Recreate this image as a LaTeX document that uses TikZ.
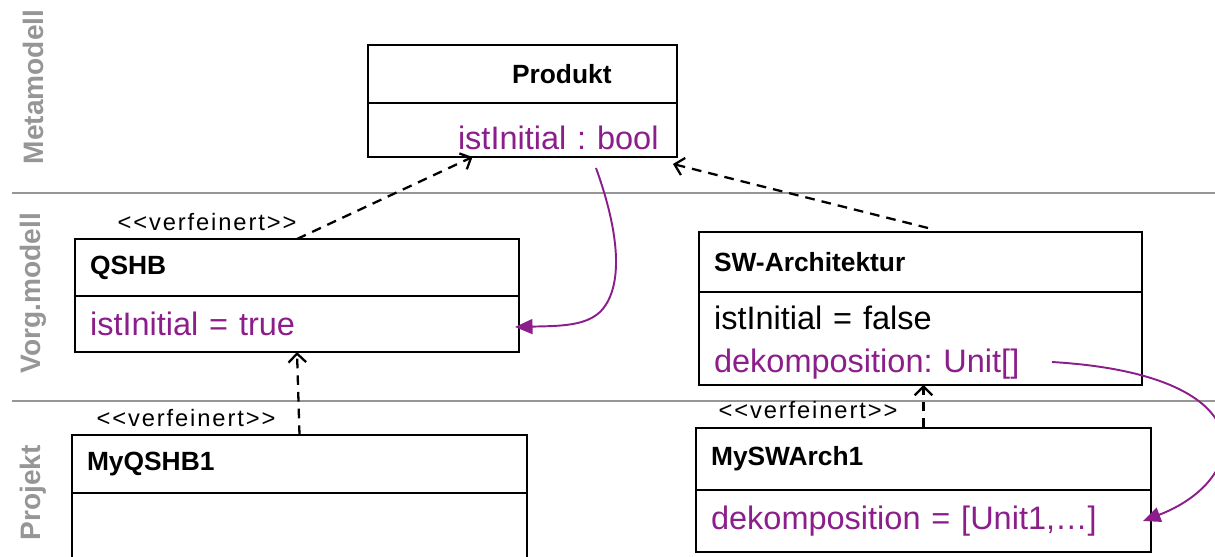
\documentclass[tikz,border=0pt]{standalone}
\usepackage{fontspec}
\setmainfont{Liberation Sans}
\usetikzlibrary{arrows.meta,positioning}
\definecolor{slotpurple}{RGB}{140,30,140}
\definecolor{lanegray}{RGB}{150,150,150}
\newcommand{\verf}{<{}<verfeinert>{}>}
\frenchspacing

\begin{document}
\begin{tikzpicture}[x=0.02cm, y=-0.02cm,
	classtitle/.style={draw, line width=0.9pt, outer sep=0pt, inner xsep=0.3cm, inner ysep=0pt, align=left, font=\fontsize{15}{18}\selectfont\bfseries},
	classattr/.style={draw, line width=0.9pt, outer sep=0pt, inner xsep=0.3cm, inner ysep=0pt, align=left, font=\fontsize{18.5}{24.5}\selectfont},
	refines/.style={line width=1.3pt, dash pattern=on 5.5pt off 4pt, -{Straight Barb[length=5pt,width=10pt]}},
	slot/.style={draw=slotpurple, line width=1.1pt, -{Triangle[length=10pt,width=8.5pt]}},
	stereotype/.style={font=\fontsize{13.5}{16}\selectfont\addfontfeature{LetterSpace=8}},
	lane/.style={draw=lanegray, line width=1pt},
	lanelabel/.style={rotate=90, text=lanegray, font=\fontsize{16}{18}\selectfont\bfseries}]
	\useasboundingbox (0,0) rectangle (1215,557);
	\clip (0,0) rectangle (1215,557);
	\draw[lane] (12,193) -- (1215,193);
	\draw[lane] (12,401) -- (1215,401);
	\node[lanelabel] (metalbl) at (33,87) {Metamodell};
	\node[lanelabel] (vorglbl) at (33,293) {Vorg.modell};
	\node[lanelabel] (projlbl) at (33,493) {Projekt};
	\node[classtitle, text width=5.58cm, minimum height=1.16cm] (produkt) at (522.5,74) {\hspace*{2.58cm}Produkt};
	\node[classattr, text width=5.58cm, minimum height=1.08cm, text height=0.8cm, below=0pt of produkt] (produktattr) {\hspace*{1.5cm}\color{slotpurple}istInitial : bool};
	\node[classtitle, text width=8.28cm, minimum height=1.14cm] (qshb) at (297,267.5) {QSHB};
	\node[classattr, text width=8.28cm, minimum height=1.12cm, below=0pt of qshb] (qshbattr) {\color{slotpurple}istInitial = true};
	\node[classtitle, text width=8.26cm, minimum height=1.2cm] (swarch) at (920.5,262) {SW-Architektur};
	\node[classattr, text width=8.26cm, minimum height=1.86cm, below=0pt of swarch] (swarchattr) {\rule{0pt}{0.63cm}istInitial = false\\ \color{slotpurple}dekomposition: Unit[]};
	\node[classtitle, text width=8.5cm, minimum height=1.16cm] (myqshb) at (299.5,464) {MyQSHB1};
	\node[classattr, text width=8.5cm, minimum height=1.44cm, below=0pt of myqshb] (myqshbattr) {};
	\node[classtitle, text width=8.5cm, minimum height=1.24cm] (myswarch) at (923.5,459) {MySWArch1};
	\node[classattr, text width=8.5cm, minimum height=1.24cm, below=0pt of myswarch] (myswarchattr) {\color{slotpurple}dekomposition = [Unit1,…]};
	\node[stereotype] (verfqshb) at (207,222) {\verf};
	\node[stereotype] (verfmyqshb) at (186,418) {\verf};
	\node[stereotype] (verfmysw) at (808,410) {\verf};
	\draw[refines] (qshb.north) -- ([xshift=-1cm]produktattr.south);
	\draw[refines] ([xshift=0.15cm, yshift=0.08cm]swarch.north) -- ([xshift=-0.08cm, yshift=-0.14cm]produktattr.south east);
	\draw[refines] (myqshb.north) -- (qshbattr.south);
	\draw[refines] (myswarch.north) -- (myswarch.north |- swarchattr.south);
	\coordinate (boolsrc) at (596,168);
	\coordinate (unitsrc) at (1052,362);
	\draw[slot] (boolsrc) .. controls (622,240) and (622,290) .. (600,312) .. controls (585,326) and (560,326) .. ([xshift=-0.08cm, yshift=-0.06cm]qshbattr.east);
	\draw[slot] (unitsrc) .. controls (1270,375) and (1250,480) .. ([xshift=-0.16cm]myswarchattr.east);
\end{tikzpicture}
\end{document}
